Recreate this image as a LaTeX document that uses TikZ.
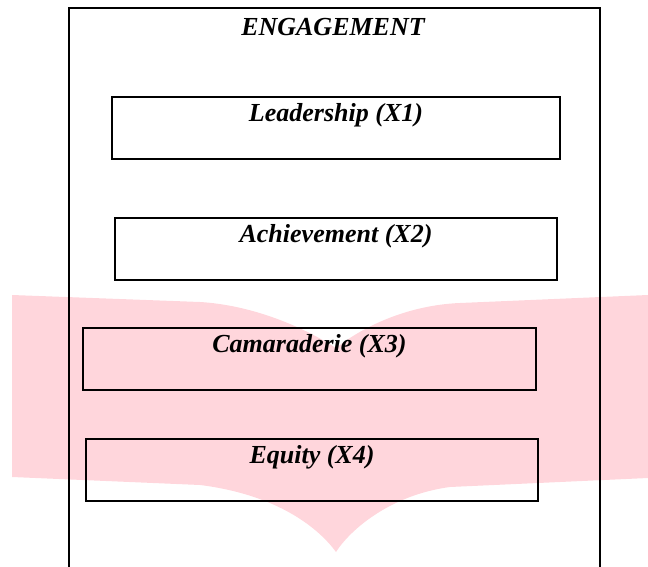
\documentclass[tikz,border=0pt]{standalone}
\usepackage{fontspec}
\setmainfont{Liberation Serif}
\usepackage{xcolor}
\definecolor{bandcolor}{HTML}{FFD6DC}
\usetikzlibrary{positioning, calc}

\begin{document}
\begin{tikzpicture}
        [
          x=1pt, y=-1pt,
          every node/.style={font=\fontsize{26}{30}\selectfont\bfseries\itshape},
          itembox/.style={draw, line width=1.8pt, anchor=north, inner xsep=0pt, inner ysep=0pt,
                          text height=25pt, text depth=37pt},
          frameline/.style={line width=2pt}
        ]
        \useasboundingbox (0,0) rectangle (648,567);

        % pink chevron behind everything
        \fill[bandcolor] (12,295) -- (200,302)
              .. controls (250,305) and (300,325) .. (336,348)
              .. controls (365,325) and (410,305) .. (460,303)
              -- (648,295) -- (648,478) -- (450,487)
              .. controls (390,495) and (350,530) .. (336,552)
              .. controls (320,530) and (280,495) .. (200,485)
              -- (12,477) -- cycle;

        % outer frame, open at the bottom
        \draw[frameline] (69,567) -- (69,8) -- (600,8) -- (600,567);
        \node[anchor=base] (title) at (333,36) {ENGAGEMENT};

        \node[itembox, minimum width=448pt] (lead) at (336,96) {Leadership (X1)};
        \node[itembox, minimum width=442pt] (achieve) at (336,217) {Achievement (X2)};
        \node[itembox, minimum width=453pt] (camara) at (309.5,327) {Camaraderie (X3)};
        \node[itembox, minimum width=452pt] (equity) at (312,438) {Equity (X4)};
      \end{tikzpicture}
\end{document}
